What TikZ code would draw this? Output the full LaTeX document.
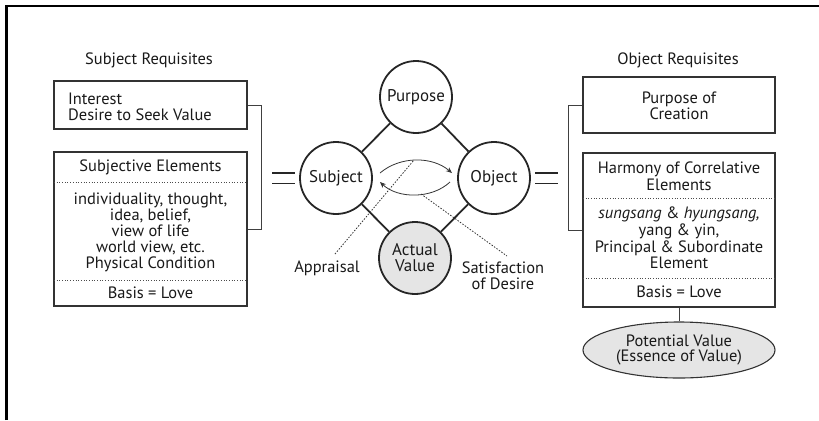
\documentclass[tikz,border=0pt]{standalone}
\usepackage{fontspec}
\setmainfont{PT Sans}
\usetikzlibrary{shapes.geometric,arrows.meta}
\begin{document}
\begin{tikzpicture}[x=1bp,y=-1bp,
  txt/.style={inner sep=0pt,font=\fontsize{16.5}{16}\selectfont,align=center,text=black!90},
  box/.style={draw=black!80,line width=1.1bp,rectangle,minimum width=193bp,inner sep=0pt},
  circ/.style={draw=black!85,line width=1.8bp,circle,minimum size=72bp,inner sep=0pt,font=\fontsize{17}{16}\selectfont,align=center,text=black!90},
  link/.style={draw=black!85,line width=1.8bp},
  sep/.style={draw=black!70,line width=0.7bp,dotted},
  brk/.style={draw=black!75,line width=1bp},
  eq/.style={draw=black!85,line width=1.8bp},
  arc/.style={draw=black!80,line width=0.8bp,-{Stealth[length=6bp,width=5bp]}},
  lead/.style={draw=black!80,line width=0.8bp,dash pattern=on 1.5bp off 1.5bp}
]
\useasboundingbox (0,0) rectangle (819,420);
% frame
\draw[line width=2.5bp] (6.5,420) -- (6.5,6) -- (819,6);

% left side
\node[txt] (lt) at (149,60) {Subject Requisites};
\node[box,minimum height=48bp] (b1) at (150.5,105) {};
\node[txt,align=left,anchor=west] (b1t) at (68,106.5) {Interest\\Desire to Seek Value};
\node[box,minimum height=154bp] (b2) at (150.5,229) {};
\draw[sep] (54,182) -- (247,182);
\draw[sep] (54,280) -- (247,280);
\node[txt] (b2a) at (150.5,167) {Subjective Elements};
\node[txt] (b2b) at (150.5,232) {individuality, thought,\\idea, belief,\\view of life\\world view, etc.\\Physical Condition};
\node[txt] (b2c) at (150.5,293) {Basis = Love};
\coordinate (lb1) at (261,105);
\coordinate (lb2) at (261,229);
\draw[brk] (b1.east) -- (lb1) -- (lb2) -- (b2.east);

% equals
\draw[eq] (272,173) -- (295,173) (272,183.5) -- (295,183.5);
\draw[eq] (535,173) -- (558,173) (535,183.5) -- (558,183.5);

% centre
\node[circ] (pur) at (416,97) {Purpose};
\node[circ] (sub) at (336,178) {Subject};
\node[circ] (obj) at (494,178) {Object};
\node[circ,fill=black!10] (act) at (415,258) {Actual\\Value};
\draw[link] (pur) -- (sub);
\draw[link] (pur) -- (obj);
\draw[link] (sub) -- (act);
\draw[link] (obj) -- (act);

\coordinate (a1s) at (380,173);
\coordinate (a1e) at (452,173);
\coordinate (a2s) at (450,182);
\coordinate (a2e) at (380,182);
\draw[arc] (a1s) .. controls (400,156) and (432,156) .. (a1e);
\draw[arc] (a2s) .. controls (432,199) and (398,199) .. (a2e);
\coordinate (pk1) at (414,160);
\coordinate (pk2) at (421,194);
\node[txt] (app) at (327,268) {Appraisal};
\node[txt] (sat) at (503,275.5) {Satisfaction\\of Desire};
\coordinate (l1) at (335,254);
\coordinate (l2) at (507,256);
\draw[lead] (l1) -- (pk1);
\draw[lead] (pk2) -- (l2);

% right side
\node[txt] (rt) at (678,60) {Object Requisites};
\node[box,minimum width=192bp,minimum height=56bp] (b3) at (679,105) {};
\node[txt] (b3t) at (679,105.5) {Purpose of\\Creation};
\node[box,minimum width=192bp,minimum height=154bp] (b4) at (679,230) {};
\draw[sep] (583,198) -- (775,198);
\draw[sep] (583,278) -- (775,278);
\node[txt,font=\fontsize{16.5}{17}\selectfont] (b4a) at (679,176.5) {Harmony of Correlative\\Elements};
\node[txt,font=\fontsize{16.5}{16.7}\selectfont] (b4b) at (679,238) {\textit{sungsang} \& \textit{hyungsang,}\\yang \& yin,\\Principal \& Subordinate\\Element};
\node[txt] (b4c) at (679,292) {Basis = Love};
\coordinate (rb1) at (568,105);
\coordinate (rb2) at (568,230);
\draw[brk] (b3.west) -- (rb1) -- (rb2) -- (b4.west);
\node[ellipse,draw=black!80,line width=1.1bp,fill=black!10,minimum width=192bp,minimum height=56bp,inner sep=0pt] (pv) at (679,350) {};
\node[txt] (pvt) at (679,350) {Potential Value\\(Essence of Value)};
\draw[brk] (b4.south) -- (pv.north);
\end{tikzpicture}
\end{document}
